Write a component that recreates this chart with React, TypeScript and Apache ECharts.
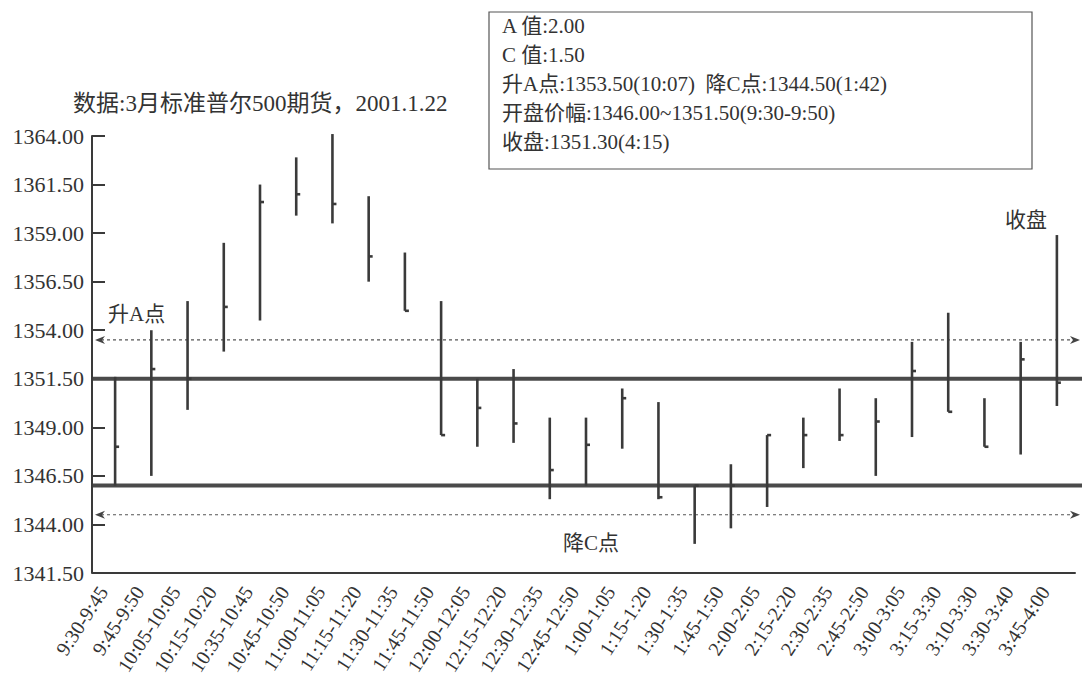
import React, { useEffect, useRef } from "react";
import * as echarts from "echarts";

const categories = ["9:30-9:45", "9:45-9:50", "10:05-10:05", "10:15-10:20", "10:35-10:45", "10:45-10:50", "11:00-11:05", "11:15-11:20", "11:30-11:35", "11:45-11:50", "12:00-12:05", "12:15-12:20", "12:30-12:35", "12:45-12:50", "1:00-1:05", "1:15-1:20", "1:30-1:35", "1:45-1:50", "2:00-2:05", "2:15-2:20", "2:30-2:35", "2:45-2:50", "3:00-3:05", "3:15-3:30", "3:10-3:30", "3:30-3:40", "3:45-4:00"];
const highs = [1351.6, 1354.0, 1355.5, 1358.5, 1361.5, 1362.9, 1364.1, 1360.9, 1358.0, 1355.5, 1351.5, 1352.0, 1349.5, 1349.5, 1351.0, 1350.3, 1346.0, 1347.1, 1348.6, 1349.5, 1351.0, 1350.5, 1353.4, 1354.9, 1350.5, 1353.4, 1358.9];
const lows = [1346.0, 1346.5, 1349.9, 1352.9, 1354.5, 1359.9, 1359.5, 1356.5, 1355.0, 1348.6, 1348.0, 1348.2, 1345.3, 1346.0, 1347.9, 1345.3, 1343.0, 1343.8, 1344.9, 1346.9, 1348.3, 1346.5, 1348.5, 1349.8, 1348.0, 1347.6, 1350.1];
const closes = [1348.0, 1352.0, 1351.5, 1355.2, 1360.6, 1361.0, 1360.5, 1357.8, 1355.0, 1348.6, 1350.0, 1349.2, 1346.8, 1348.1, 1350.5, 1345.4, 1346.0, 1346.0, 1348.6, 1348.6, 1348.6, 1349.3, 1351.9, 1349.8, 1348.0, 1352.5, 1351.3];

const thickLevels = [1351.5, 1346.0];
const dottedLevels = [1353.5, 1344.5];

const yMin = 1341.5;
const yMax = 1364;
const yStep = 2.5;

const titleText = "数据:3月标准普尔500期货，2001.1.22";
const infoLines = [
  "A 值:2.00",
  "C 值:1.50",
  "升A点:1353.50(10:07)  降C点:1344.50(1:42)",
  "开盘价幅:1346.00~1351.50(9:30-9:50)",
  "收盘:1351.30(4:15)",
];
const labelA = "升A点";
const labelC = "降C点";
const labelClose = "收盘";

const FONT = "'Liberation Serif', 'Noto Sans CJK SC', serif";
const INK = "#3a3a3a";
const TXT = "#333333";

export default function App() {
  const ref = useRef<HTMLDivElement>(null);
  useEffect(() => {
    const chart = echarts.init(ref.current!, null, { renderer: "svg" });
    const ohlc = categories.map((_, i) => [i, lows[i], highs[i], closes[i]]);
    const levels = [
      ...thickLevels.map((v) => [0, v, 0]),
      ...dottedLevels.map((v) => [0, v, 1]),
    ];
    chart.setOption({
      animation: false,
      backgroundColor: "#ffffff",
      grid: [
        { left: 97, right: 7, top: 136, bottom: 113, containLabel: false },
        { left: 85, right: 19, top: 136, bottom: 113, containLabel: false },
      ],
      xAxis: [
        {
          type: "category",
          gridIndex: 0,
          data: categories,
          boundaryGap: true,
          axisLine: { lineStyle: { color: INK, width: 2 } },
          axisTick: { inside: true, length: 12, lineStyle: { color: INK, width: 2 } },
          axisLabel: { show: false },
          splitLine: { show: false },
        },
        {
          type: "category",
          gridIndex: 1,
          data: categories,
          boundaryGap: true,
          axisLine: { show: false },
          axisTick: { show: false },
          axisLabel: {
            rotate: 57,
            interval: 0,
            margin: 15,
            color: TXT,
            fontSize: 20,
            fontFamily: FONT,
          },
          splitLine: { show: false },
        },
      ],
      yAxis: [
        {
          type: "value",
          gridIndex: 0,
          min: yMin,
          max: yMax,
          interval: yStep,
          offset: 5,
          axisLine: { show: true, lineStyle: { color: INK, width: 2 } },
          axisTick: { show: true, inside: true, length: 13, lineStyle: { color: INK, width: 2 } },
          axisLabel: {
            margin: 8,
            color: TXT,
            fontSize: 22,
            fontFamily: FONT,
            formatter: (v: number) => v.toFixed(2),
          },
          splitLine: { show: false },
        },
        {
          type: "value",
          gridIndex: 1,
          min: yMin,
          max: yMax,
          interval: yStep,
          show: false,
        },
      ],
      series: [
        {
          type: "custom",
          xAxisIndex: 0,
          yAxisIndex: 0,
          data: levels,
          clip: false,
          silent: true,
          renderItem: (params: any, api: any) => {
            const y = api.coord([0, api.value(1)])[1];
            const kind = api.value(2);
            const cs = params.coordSys;
            if (kind === 0) {
              return {
                type: "line",
                shape: { x1: cs.x - 4, y1: y, x2: cs.x + cs.width + 7, y2: y },
                style: { stroke: "#4a4a4a", lineWidth: 4 },
              };
            }
            const xl = cs.x - 2;
            const xr = cs.x + cs.width + 5;
            return {
              type: "group",
              children: [
                {
                  type: "line",
                  shape: { x1: xl + 6, y1: y, x2: xr - 6, y2: y },
                  style: { stroke: "#555555", lineWidth: 1.2, lineDash: [3, 3] },
                },
                {
                  type: "polygon",
                  shape: { points: [[xl, y], [xl + 10, y - 4], [xl + 7, y], [xl + 10, y + 4]] },
                  style: { fill: "#444444" },
                },
                {
                  type: "polygon",
                  shape: { points: [[xr, y], [xr - 10, y - 4], [xr - 7, y], [xr - 10, y + 4]] },
                  style: { fill: "#444444" },
                },
              ],
            };
          },
          z: 1,
        },
        {
          type: "custom",
          xAxisIndex: 0,
          yAxisIndex: 0,
          data: ohlc,
          clip: false,
          encode: { x: 0, y: [1, 2, 3] },
          renderItem: (params: any, api: any) => {
            const i = api.value(0);
            const lo = api.coord([i, api.value(1)]);
            const hi = api.coord([i, api.value(2)]);
            const cl = api.coord([i, api.value(3)]);
            return {
              type: "group",
              children: [
                {
                  type: "line",
                  shape: { x1: lo[0], y1: lo[1], x2: hi[0], y2: hi[1] },
                  style: { stroke: INK, lineWidth: 2.6 },
                },
                {
                  type: "line",
                  shape: { x1: cl[0], y1: cl[1], x2: cl[0] + 4, y2: cl[1] },
                  style: { stroke: INK, lineWidth: 2.6 },
                },
              ],
            };
          },
          z: 2,
        },
      ],
      graphic: [
        {
          type: "text",
          x: 73,
          y: 103,
          style: { text: titleText, fill: TXT, font: `23px ${FONT}`, verticalAlign: "middle" },
        },
        {
          type: "rect",
          shape: { x: 489, y: 12, width: 543, height: 157 },
          style: { fill: "#ffffff", stroke: "#555555", lineWidth: 1.2 },
        },
        ...infoLines.map((t, k) => ({
          type: "text",
          x: 502,
          y: 26 + k * 29,
          style: { text: t, fill: TXT, font: `21px ${FONT}`, verticalAlign: "middle" },
        })),
        {
          type: "text",
          x: 108,
          y: 314,
          style: { text: labelA, fill: TXT, font: `21px ${FONT}`, verticalAlign: "middle" },
        },
        {
          type: "text",
          x: 563,
          y: 543,
          style: { text: labelC, fill: TXT, font: `21px ${FONT}`, verticalAlign: "middle" },
        },
        {
          type: "text",
          x: 1005,
          y: 220,
          style: { text: labelClose, fill: TXT, font: `21px ${FONT}`, verticalAlign: "middle" },
        },
      ],
    });
    return () => chart.dispose();
  }, []);
  return (
    <div
      ref={ref}
      style={{ position: "absolute", left: 0, top: 0, width: 1082, height: 686 }}
    />
  );
}
